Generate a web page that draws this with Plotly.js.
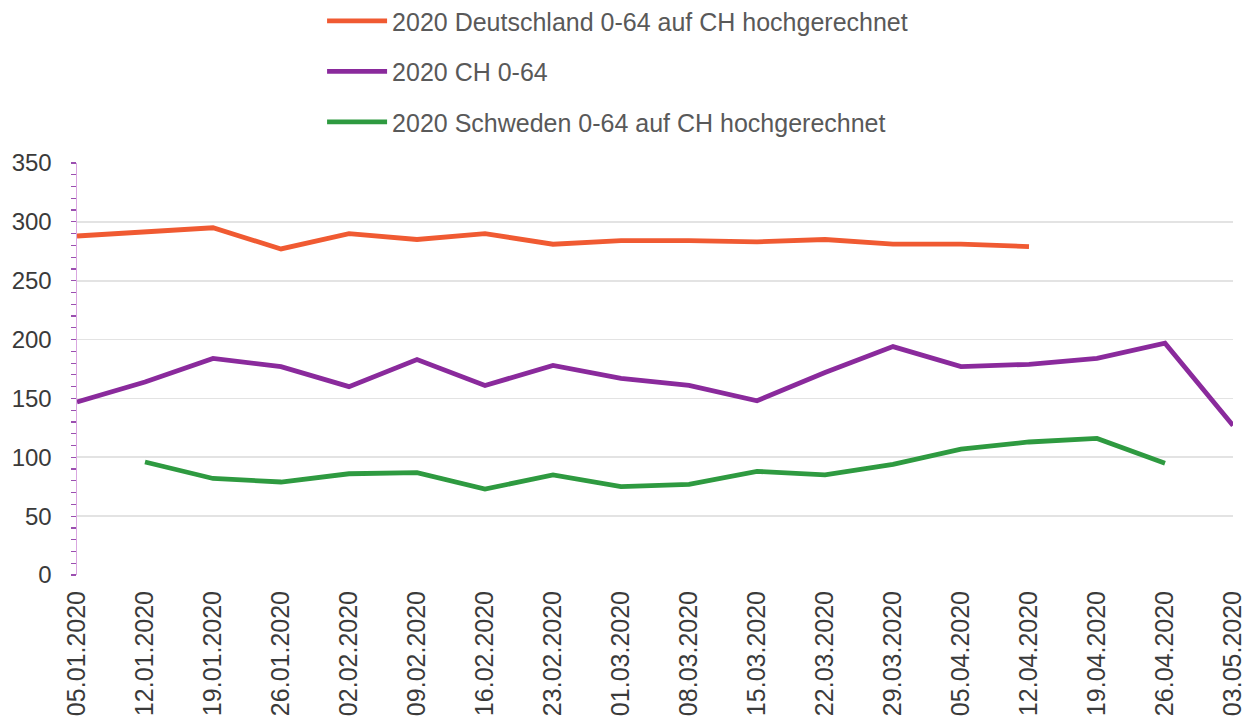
<!DOCTYPE html>
<html>
<head>
<meta charset="utf-8">
<script src="https://cdn.plot.ly/plotly-3.0.1.min.js"></script>
<style>
html,body{margin:0;padding:0;background:#fff;}
#chart{width:1248px;height:722px;}
</style>
</head>
<body>
<div id="chart"></div>
<script>
const categories = ["05.01.2020","12.01.2020","19.01.2020","26.01.2020","02.02.2020","09.02.2020","16.02.2020","23.02.2020","01.03.2020","08.03.2020","15.03.2020","22.03.2020","29.03.2020","05.04.2020","12.04.2020","19.04.2020","26.04.2020","03.05.2020"];
const deutschland = [288,291,295,277,290,285,290,281,284,284,283,285,281,281,279,null,null,null];
const ch = [147,164,184,177,160,183,161,178,167,161,148,172,194,177,179,184,197,127];
const schweden = [null,96,82,79,86,87,73,85,75,77,88,85,94,107,113,116,95,null];

const names = ["2020 Deutschland 0-64 auf CH hochgerechnet","2020 CH 0-64","2020 Schweden 0-64 auf CH hochgerechnet"];
const colors = ["#f05a32","#8a2a9c","#2e9a40"];
const series = [deutschland, ch, schweden];

const traces = series.map((s,i)=>({
  x: categories, y: s, name: names[i], type:"scatter", mode:"lines",
  line:{color:colors[i], width:4.8}, connectgaps:false, legendgroup:"g"+i
}));

const layout = {
  width:1248, height:722,
  margin:{l:77, r:15, t:163, b:147, autoexpand:false},
  paper_bgcolor:"#fff", plot_bgcolor:"#fff",
  font:{family:"'Liberation Sans', Arial, sans-serif", color:"#3a3a3a", size:24},
  showlegend:true,
  legend:{x:0.212, xanchor:"left", y:1.40, yanchor:"top", orientation:"v",
    font:{size:25, color:"#595959"}, tracegroupgap:15, traceorder:"grouped", itemwidth:60},
  xaxis:{type:"category", range:[0,17], showgrid:false, zeroline:false, showline:false,
    tickangle:-90, tickfont:{size:25, color:"#3a3a3a"}, ticks:"", automargin:false,
    ticklabelstandoff:10},
  yaxis:{range:[0,350], dtick:50, showgrid:true, gridcolor:"#e3e3e3", gridwidth:1.8,
    zeroline:false, showline:true, linecolor:"#d9a6e0", linewidth:1.5,
    ticks:"outside", ticklen:5, tickcolor:"#9b4fb0", tickwidth:1.2,
    minor:{dtick:10, ticks:"outside", ticklen:5, tickcolor:"#9b4fb0", tickwidth:1.2, showgrid:false},
    tickfont:{size:24, color:"#3a3a3a"}, automargin:false, ticklabelstandoff:14}
};
Plotly.newPlot("chart", traces, layout, {displayModeBar:false, staticPlot:true});
</script>
</body>
</html>
